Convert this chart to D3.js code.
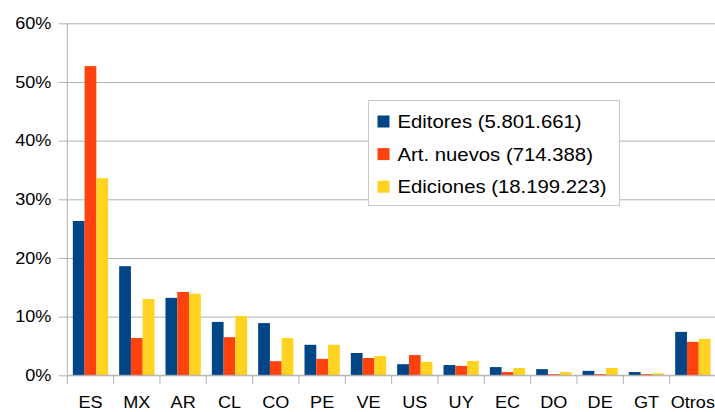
<!DOCTYPE html>
<html>
<head>
<meta charset="utf-8">
<script src="https://cdn.jsdelivr.net/npm/d3@7"></script>
<style>
  body { margin: 0; background: #fff; }
  svg { display: block; font-family: "Liberation Sans", Arial, sans-serif; }
  .grid line { stroke: #b3b3b3; }
  .grid .domain { display: none; }
  .lbl text { font-size: 16px; fill: #000; }
  .lbl .domain, .lbl line { display: none; }
</style>
</head>
<body>
<svg id="chart" width="715" height="412"></svg>
<script>
// values, share per country
let categories = ["ES", "MX", "AR", "CL", "CO", "PE", "VE", "US", "UY", "EC", "DO", "DE", "GT", "Otros"];
let series_names = ["Editores (5.801.661)", "Art. nuevos (714.388)", "Ediciones (18.199.223)"];
let series_colors = ["#004586", "#ff420e", "#ffd320"];
let editores   = [26.3, 18.6, 13.2, 9.1, 8.9, 5.2, 3.8, 1.9, 1.75, 1.4, 1.05, 0.75, 0.55, 7.4];
let art_nuevos = [52.7, 6.35, 14.2, 6.5, 2.4, 2.8, 2.95, 3.45, 1.6, 0.55, 0.2, 0.2, 0.2, 5.7];
let ediciones  = [33.6, 13.0, 13.9, 10.1, 6.35, 5.2, 3.3, 2.3, 2.45, 1.25, 0.55, 1.25, 0.35, 6.2];
let y_ticks = [0, 10, 20, 30, 40, 50, 60];

let all_series = [editores, art_nuevos, ediciones];

let plot_left = 67.3, plot_right = 716, plot_top = 23.3, plot_bottom = 375.3;
let stretch = 1.13; // the text in the picture is a bit wider than Liberation Sans

let svg = d3.select("#chart");

let x = d3.scaleBand()
    .domain(categories)
    .range([plot_left, plot_right])
    .padding(0);

let xs = d3.scaleBand()
    .domain([0, 1, 2])
    .range([0, x.bandwidth()])
    .paddingInner(0)
    .paddingOuter(0.47);

let y = d3.scaleLinear()
    .domain([0, 60])
    .range([plot_bottom, plot_top]);

// grid lines + left ticks
svg.append("g")
    .attr("class", "grid")
    .attr("transform", `translate(${plot_left - 9},0)`)
    .call(d3.axisLeft(y).tickValues(y_ticks).tickSize(-(plot_right - plot_left + 9)).tickFormat(""));

// y labels
svg.append("g")
    .attr("class", "lbl")
    .attr("transform", `translate(${plot_left - 9},0)`)
    .call(d3.axisLeft(y).tickValues(y_ticks).tickSize(0).tickPadding(7).tickFormat(d => d + "%"))
    .selectAll("text")
    .attr("x", -7 / stretch)
    .attr("transform", `scale(${stretch},1)`);

// bars
svg.append("g")
    .selectAll("g")
    .data(all_series)
    .join("g")
    .attr("fill", (d, i) => series_colors[i])
    .each(function(vals, si) {
        d3.select(this).selectAll("rect")
            .data(vals)
            .join("rect")
            .attr("x", (d, i) => x(categories[i]) + xs(si))
            .attr("y", d => y(d))
            .attr("width", xs.bandwidth())
            .attr("height", d => y(0) - y(d));
    });

// y axis line
svg.append("line")
    .attr("x1", plot_left).attr("x2", plot_left)
    .attr("y1", plot_top).attr("y2", plot_bottom + 9)
    .attr("stroke", "#b3b3b3");

// x axis line and category ticks
svg.append("line")
    .attr("x1", plot_left).attr("x2", plot_right)
    .attr("y1", plot_bottom).attr("y2", plot_bottom)
    .attr("stroke", "#b3b3b3");

svg.append("g")
    .selectAll("line")
    .data(categories.slice(1))
    .join("line")
    .attr("x1", d => x(d)).attr("x2", d => x(d))
    .attr("y1", plot_bottom).attr("y2", plot_bottom + 9)
    .attr("stroke", "#b3b3b3");

// x labels
svg.append("g")
    .attr("class", "lbl")
    .attr("transform", `translate(0,${plot_bottom})`)
    .call(d3.axisBottom(x).tickSize(0).tickPadding(21))
    .selectAll("text")
    .attr("transform", `scale(${stretch},1)`);

// legend
let legend = svg.append("g").attr("transform", "translate(368.5,100.5)");
legend.append("rect")
    .attr("width", 251).attr("height", 105)
    .attr("fill", "#fff").attr("stroke", "#c8c8c8");

let items = legend.selectAll(".item")
    .data(series_names)
    .join("g")
    .attr("class", "item")
    .attr("transform", (d, i) => `translate(9,${15 + i * 32.6})`);

items.append("rect")
    .attr("width", 12).attr("height", 12)
    .attr("fill", (d, i) => series_colors[i]);

items.append("text")
    .attr("x", 20 / stretch)
    .attr("y", 12.5)
    .attr("font-size", 18)
    .attr("fill", "#000")
    .attr("transform", `scale(${stretch},1)`)
    .text(d => d);
</script>
</body>
</html>
